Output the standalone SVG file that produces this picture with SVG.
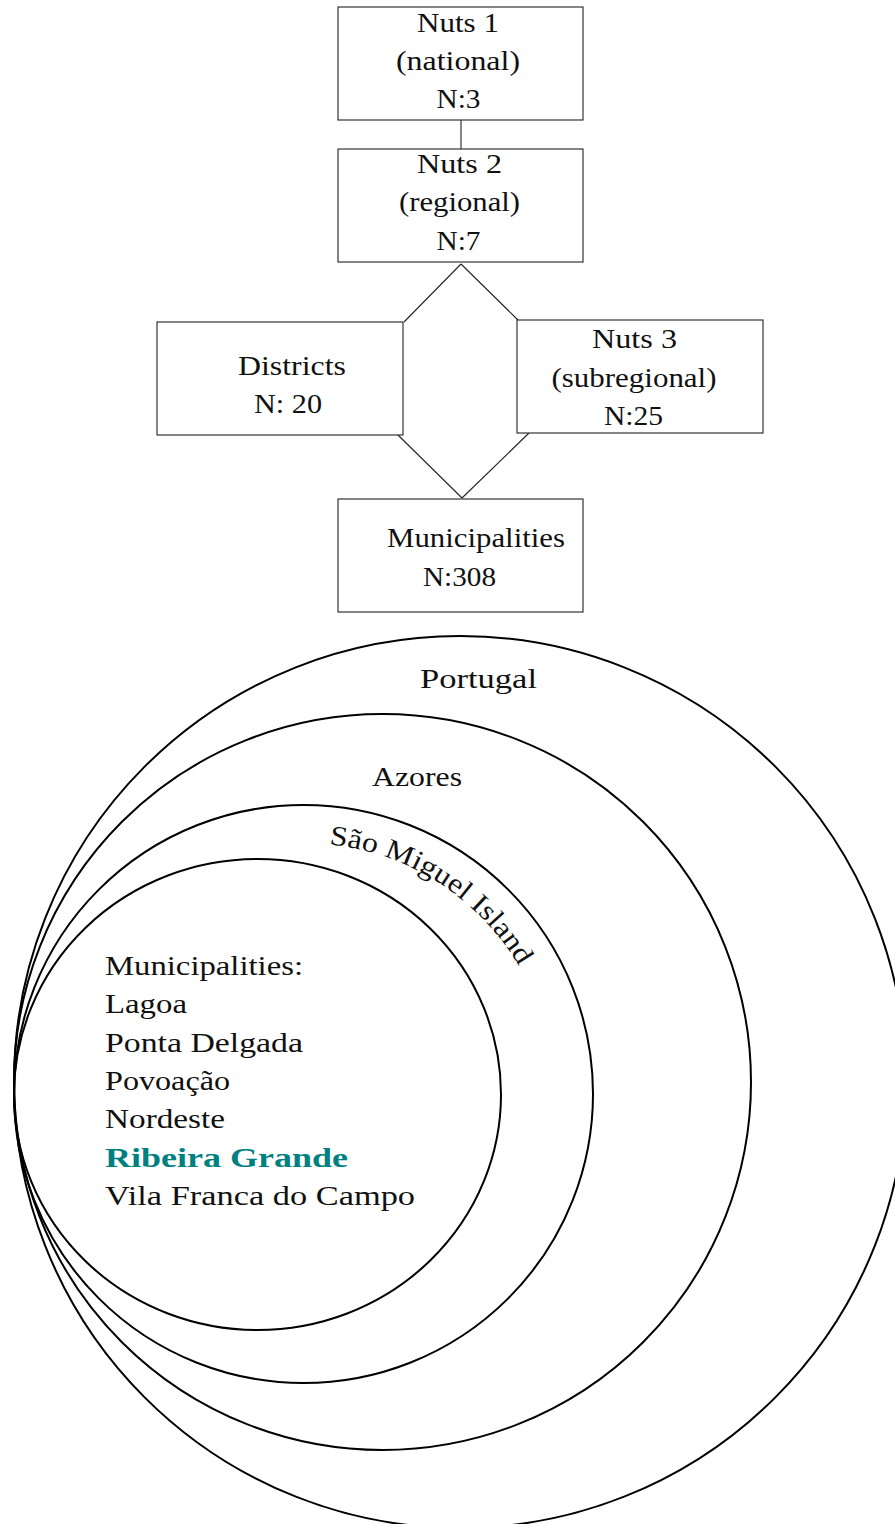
<svg xmlns="http://www.w3.org/2000/svg" width="895" height="1524" viewBox="0 0 895 1524">
<style>
.box{fill:#fff;stroke:#222;stroke-width:1.1}
.t{font-family:"Liberation Serif","Times New Roman",serif;font-size:28px;fill:#111}
.c{fill:none;stroke:#000;stroke-width:2}
.conn line{stroke:#222;stroke-width:1.1}
.teal{fill:#008080;font-weight:bold}
</style>
<defs>
<path id="arcSM" d="M 303 843 A 251 251 0 0 1 554 1094"/>
</defs>
<g class="conn" id="connectors">
<line x1="461" y1="120" x2="461" y2="149"/>
<line x1="461" y1="264" x2="404" y2="322"/>
<line x1="461" y1="264" x2="518" y2="320"/>
<line x1="398" y1="435" x2="462" y2="498"/>
<line x1="529" y1="433" x2="462" y2="498"/>
</g>
<g id="nuts1">
<rect class="box" x="338" y="7" width="245" height="113"/>
<text class="t" x="417" y="32" textLength="82" lengthAdjust="spacingAndGlyphs">Nuts 1</text>
<text class="t" x="396" y="70" textLength="124" lengthAdjust="spacingAndGlyphs">(national)</text>
<text class="t" x="436.5" y="108" textLength="44" lengthAdjust="spacingAndGlyphs">N:3</text>
</g>
<g id="nuts2">
<rect class="box" x="338" y="149" width="245" height="113"/>
<text class="t" x="417" y="173" textLength="85" lengthAdjust="spacingAndGlyphs">Nuts 2</text>
<text class="t" x="399" y="211" textLength="121" lengthAdjust="spacingAndGlyphs">(regional)</text>
<text class="t" x="436.5" y="250" textLength="44" lengthAdjust="spacingAndGlyphs">N:7</text>
</g>
<g id="districts">
<rect class="box" x="157" y="322" width="246" height="113"/>
<text class="t" x="238" y="375" textLength="108" lengthAdjust="spacingAndGlyphs">Districts</text>
<text class="t" x="254" y="413" textLength="68" lengthAdjust="spacingAndGlyphs">N: 20</text>
</g>
<g id="nuts3">
<rect class="box" x="517" y="320" width="246" height="113"/>
<text class="t" x="592" y="348" textLength="85" lengthAdjust="spacingAndGlyphs">Nuts 3</text>
<text class="t" x="551.5" y="387" textLength="165" lengthAdjust="spacingAndGlyphs">(subregional)</text>
<text class="t" x="604" y="425" textLength="59" lengthAdjust="spacingAndGlyphs">N:25</text>
</g>
<g id="municipalities">
<rect class="box" x="338" y="499" width="245" height="113"/>
<text class="t" x="387" y="547" textLength="178" lengthAdjust="spacingAndGlyphs">Municipalities</text>
<text class="t" x="423" y="586" textLength="73" lengthAdjust="spacingAndGlyphs">N:308</text>
</g>
<g id="portugal">
<ellipse class="c" cx="460" cy="1082" rx="446" ry="446"/>
<text class="t" x="420" y="688" textLength="117" lengthAdjust="spacingAndGlyphs">Portugal</text>
</g>
<g id="azores">
<ellipse class="c" cx="382.5" cy="1082" rx="368.5" ry="368"/>
<text class="t" x="372" y="786" textLength="90" lengthAdjust="spacingAndGlyphs">Azores</text>
</g>
<g id="saomiguel">
<ellipse class="c" cx="303.5" cy="1094" rx="289.5" ry="289"/>
<text class="t"><textPath href="#arcSM" startOffset="26" textLength="234" lengthAdjust="spacingAndGlyphs">São Miguel Island</textPath></text>
</g>
<g id="municipalities-list">
<ellipse class="c" cx="257.5" cy="1094.5" rx="243.5" ry="235.5"/>
<text class="t" x="105" y="975" textLength="198" lengthAdjust="spacingAndGlyphs">Municipalities:</text>
<text class="t" x="105" y="1013" textLength="82" lengthAdjust="spacingAndGlyphs">Lagoa</text>
<text class="t" x="105" y="1052" textLength="198" lengthAdjust="spacingAndGlyphs">Ponta Delgada</text>
<text class="t" x="105" y="1090" textLength="125" lengthAdjust="spacingAndGlyphs">Povoação</text>
<text class="t" x="105" y="1128" textLength="120" lengthAdjust="spacingAndGlyphs">Nordeste</text>
<text class="t teal" x="105" y="1167" textLength="243" lengthAdjust="spacingAndGlyphs">Ribeira Grande</text>
<text class="t" x="105" y="1205" textLength="310" lengthAdjust="spacingAndGlyphs">Vila Franca do Campo</text>
</g>
</svg>
